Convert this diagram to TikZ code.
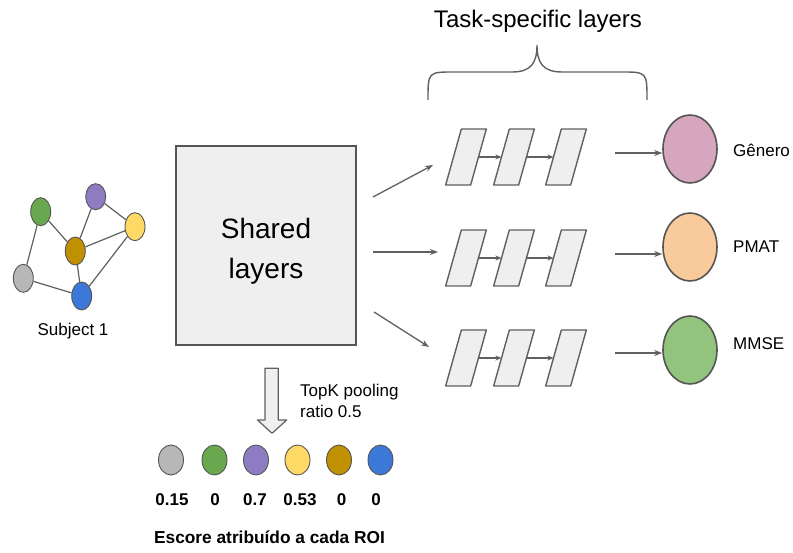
\documentclass[tikz,border=0pt]{standalone}
\usepackage{fontspec}
\setmainfont{Liberation Sans}
\usetikzlibrary{shapes.geometric,arrows.meta}

\definecolor{edgegray}{HTML}{606060}
\definecolor{rimgray}{HTML}{555555}
\definecolor{boxfill}{HTML}{EFEFEF}
\definecolor{cgray}{HTML}{B7B7B7}
\definecolor{cgreen}{HTML}{6AA84F}
\definecolor{cpurple}{HTML}{8E7CC3}
\definecolor{cyellow}{HTML}{FFD966}
\definecolor{cgold}{HTML}{BF9000}
\definecolor{cblue}{HTML}{3C78D8}
\definecolor{cpink}{HTML}{D5A6BD}
\definecolor{corange}{HTML}{F9CB9C}
\definecolor{cmint}{HTML}{93C47D}

\tikzset{
  roi/.style={ellipse, draw=rimgray, line width=0.9pt, inner sep=0pt,
              minimum width=20pt, minimum height=28pt},
  roirow/.style={ellipse, draw=rimgray, line width=0.9pt, inner sep=0pt,
              minimum width=25pt, minimum height=30pt},
  taskout/.style={ellipse, draw=rimgray, line width=1.6pt, inner sep=0pt,
              minimum width=54pt, minimum height=68pt},
  gedge/.style={draw=edgegray, line width=1.2pt},
  flow/.style={draw=edgegray, line width=1.3pt,
               -{Stealth[length=8pt,width=6pt]}},
  innerflow/.style={draw=edgegray, line width=1.2pt,
               -{Stealth[length=6pt,width=5pt]}},
  layerbox/.style={draw=edgegray, fill=boxfill, line width=1.4pt, line join=round},
  lbl/.style={font=\fontsize{17}{21}\selectfont, inner sep=0pt},
  score/.style={font=\fontsize{17}{21}\selectfont\bfseries, inner sep=0pt},
}

% one slanted layer block centred at (#2,#3); named coordinates #1-l and #1-r
\newcommand{\layerblock}[3]{%
  \draw[layerbox] (#2-20.35,#3+28) -- (#2+4.65,#3+28) -- (#2+20.35,#3-28)
    -- (#2-4.65,#3-28) -- cycle;
  \coordinate (#1-l) at (#2-12.5,#3);
  \coordinate (#1-r) at (#2+12.5,#3);
}

\begin{document}
\begin{tikzpicture}[x=1pt,y=-1pt]
\useasboundingbox (0,0) rectangle (793,553);

% ---- input graph ----
\node[roi, fill=cgreen]  (g1) at (40.7,211.7) {};
\node[roi, fill=cpurple, minimum height=26pt] (g2) at (95.7,196.7) {};
\node[roi, fill=cyellow] (g3) at (135,226.7) {};
\node[roi, fill=cgold]   (g4) at (75.3,251) {};
\node[roi, fill=cgray]   (g5) at (23.3,278.3) {};
\node[roi, fill=cblue]   (g6) at (81.7,296) {};
\draw[gedge] (g1) -- (g5);
\draw[gedge] (g1) -- (g4);
\draw[gedge] (g2) -- (g4);
\draw[gedge] (g2) -- (g3);
\draw[gedge] (g4) -- (g3);
\draw[gedge] (g4) -- (g6);
\draw[gedge] (g5) -- (g6);
\draw[gedge] (g3) -- (g6);
\node[lbl] (subj) at (73,331) {Subject 1};

% ---- shared layers ----
\node[draw=rimgray, fill=boxfill, line width=1.3pt, minimum width=180pt,
      minimum height=199pt, inner sep=0pt] (shared) at (266,245.5) {};
\node[font=\fontsize{28}{40}\selectfont, align=center, inner sep=0pt]
  (sharedtxt) at (266,251) {Shared\\layers};

% ---- task-specific layer stacks ----
\layerblock{a1}{466}{157}
\layerblock{a2}{514}{157}
\layerblock{a3}{566}{157}
\layerblock{b1}{466}{258}
\layerblock{b2}{514}{258}
\layerblock{b3}{566}{258}
\layerblock{c1}{466}{358}
\layerblock{c2}{514}{358}
\layerblock{c3}{566}{358}
\draw[innerflow] (a1-r) -- (a2-l);
\draw[innerflow] (a2-r) -- (a3-l);
\draw[innerflow] (b1-r) -- (b2-l);
\draw[innerflow] (b2-r) -- (b3-l);
\draw[innerflow] (c1-r) -- (c2-l);
\draw[innerflow] (c2-r) -- (c3-l);

% shared -> stacks
\coordinate (s1) at (373,197);
\coordinate (s2) at (373,252);
\coordinate (s3) at (374,312);
\coordinate (e1) at (433,165);
\coordinate (e2) at (438,252);
\coordinate (e3) at (429,347);
\draw[flow] (s1) -- (e1);
\draw[flow] (s2) -- (e2);
\draw[flow] (s3) -- (e3);

% ---- outputs ----
\node[taskout, fill=cpink]   (t1) at (690,149) {};
\node[taskout, fill=corange] (t2) at (690,247) {};
\node[taskout, fill=cmint]   (t3) at (690,350) {};
\coordinate (o1) at (615,153);
\coordinate (o2) at (615,254);
\coordinate (o3) at (615,353);
\draw[flow] (o1) -- (o1 -| t1.west);
\draw[flow] (o2) -- (o2 -| t2.west);
\draw[flow] (o3) -- (o3 -| t3.west);
\node[lbl, anchor=west] (n1) at (733,150) {Gênero};
\node[lbl, anchor=west] (n2) at (733,246.7) {PMAT};
\node[lbl, anchor=west] (n3) at (733,343.3) {MMSE};

% ---- brace and title ----
\draw[edgegray, line width=1.4pt]
  (428,100) .. controls (428,72) .. (454,72) -- (512,72)
  .. controls (531,72) and (537,63) .. (537,45)
  .. controls (537,63) and (543,72) .. (562,72) -- (621,72)
  .. controls (647,72) .. (647,100);
\node[font=\fontsize{24}{28}\selectfont, inner sep=0pt] (title) at (538,21) {Task-specific layers};

% ---- pooling arrow ----
\draw[layerbox, line width=1.2pt] (265,368.3) -- (278.3,368.3) -- (278.3,420)
  -- (286.7,420) -- (272,433.3) -- (257.5,420) -- (265,420) -- cycle;
\node[lbl, align=left, anchor=west, font=\fontsize{17}{21.7}\selectfont]
  (pool) at (300,401) {TopK pooling\\ratio 0.5};

% ---- ROI scores ----
\node[roirow, fill=cgray]   (r1) at (171,460) {};
\node[roirow, fill=cgreen]  (r2) at (214.5,460) {};
\node[roirow, fill=cpurple] (r3) at (256,460) {};
\node[roirow, fill=cyellow] (r4) at (297.5,460) {};
\node[roirow, fill=cgold]   (r5) at (339,460) {};
\node[roirow, fill=cblue]   (r6) at (380.5,460) {};
\node[score] (v1) at (172,500) {0.15};
\node[score] (v2) at (215,500) {0};
\node[score] (v3) at (255,500) {0.7};
\node[score] (v4) at (300,500) {0.53};
\node[score] (v5) at (341.5,500) {0};
\node[score] (v6) at (376,500) {0};
\node[score, font=\fontsize{17.3}{20}\selectfont\bfseries] (cap) at (269.5,537) {Escore atribuído a cada ROI};
\end{tikzpicture}
\end{document}
